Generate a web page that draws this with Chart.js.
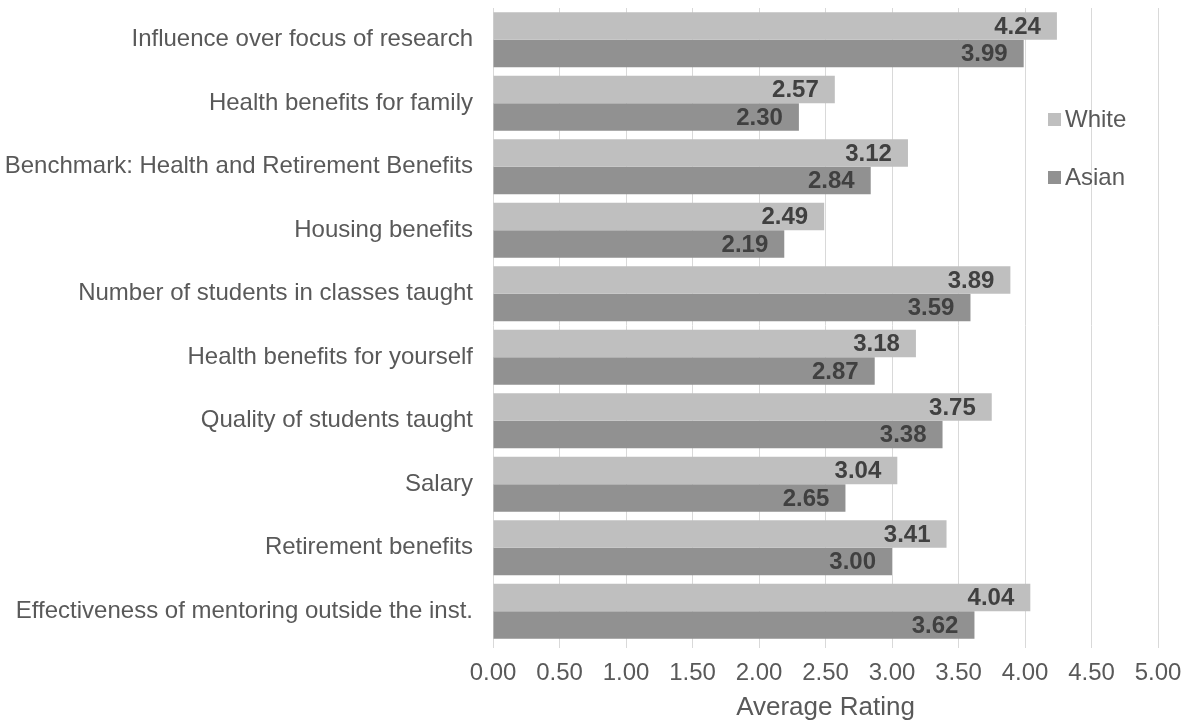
<!DOCTYPE html>
<html>
<head>
<meta charset="utf-8">
<script src="https://cdn.jsdelivr.net/npm/chart.js@4/dist/chart.umd.min.js"></script>
<style>
html,body{margin:0;padding:0;background:#fff;}
#wrap{width:1189px;height:723px;position:relative;}
</style>
</head>
<body>
<div id="wrap"><canvas id="c" width="1189" height="723"></canvas></div>
<script>
const categories = [
  "Influence over focus of research",
  "Health benefits for family",
  "Benchmark: Health and Retirement Benefits",
  "Housing benefits",
  "Number of students in classes taught",
  "Health benefits for yourself",
  "Quality of students taught",
  "Salary",
  "Retirement benefits",
  "Effectiveness of mentoring outside the inst."
];
const whiteValues = [4.24, 2.57, 3.12, 2.49, 3.89, 3.18, 3.75, 3.04, 3.41, 4.04];
const asianValues = [3.99, 2.30, 2.84, 2.19, 3.59, 2.87, 3.38, 2.65, 3.00, 3.62];
const seriesNames = ["White", "Asian"];
const seriesColors = ["#bfbfbf", "#919191"];
const axisTitle = "Average Rating";

const FONT = "'Liberation Sans', Arial, sans-serif";

const valueLabels = {
  id: 'valueLabels',
  afterDatasetsDraw(chart) {
    const ctx = chart.ctx;
    ctx.save();
    ctx.font = "bold 24px " + FONT;
    ctx.fillStyle = "#404040";
    ctx.textAlign = "right";
    ctx.textBaseline = "middle";
    chart.data.datasets.forEach((ds, i) => {
      const meta = chart.getDatasetMeta(i);
      meta.data.forEach((bar, j) => {
        ctx.fillText(ds.data[j].toFixed(2), bar.x - 16, bar.y + 1);
      });
    });
    ctx.restore();
  }
};

const customLegend = {
  id: 'customLegend',
  afterDraw(chart) {
    const ctx = chart.ctx;
    ctx.save();
    ctx.font = "24px " + FONT;
    ctx.textBaseline = "middle";
    ctx.textAlign = "left";
    const ys = [119, 177];
    seriesNames.forEach((n, i) => {
      ctx.fillStyle = seriesColors[i];
      ctx.fillRect(1048, ys[i] - 6, 13, 13);
      ctx.fillStyle = "#595959";
      ctx.fillText(n, 1065, ys[i] + 1);
    });
    ctx.restore();
  }
};

new Chart(document.getElementById('c'), {
  type: 'bar',
  data: {
    labels: categories,
    datasets: [
      { label: seriesNames[0], data: whiteValues, backgroundColor: seriesColors[0], categoryPercentage: 0.867, barPercentage: 1.0 },
      { label: seriesNames[1], data: asianValues, backgroundColor: seriesColors[1], categoryPercentage: 0.867, barPercentage: 1.0 }
    ]
  },
  options: {
    indexAxis: 'y',
    responsive: false,
    animation: false,
    layout: { padding: { top: 8, right: 31, bottom: 0, left: 0 } },
    plugins: { legend: { display: false }, tooltip: { enabled: false } },
    scales: {
      x: {
        min: 0, max: 5,
        ticks: { stepSize: 0.5, color: "#595959", font: { family: FONT, size: 24 }, padding: 11,
          callback: v => Number(v).toFixed(2) },
        grid: { color: "#d9d9d9", lineWidth: 1, drawTicks: true, tickLength: 5 },
        border: { display: false },
        title: { display: true, text: axisTitle, color: "#595959", font: { family: FONT, size: 26 }, padding: { top: 0, bottom: 0 } },
        afterFit(scale) { scale.height = 80; scale.paddingLeft = 0; scale.paddingRight = 0; }
      },
      y: {
        ticks: { color: "#595959", font: { family: FONT, size: 24 }, padding: 12, autoSkip: false },
        grid: { display: false },
        border: { display: false },
        afterFit(scale) { scale.width = 493; scale.paddingTop = 0; scale.paddingBottom = 0; }
      }
    }
  },
  plugins: [valueLabels, customLegend]
});
</script>
</body>
</html>
